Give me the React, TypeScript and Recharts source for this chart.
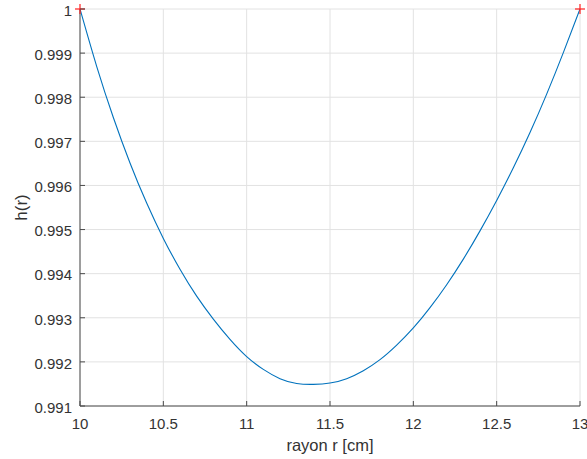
import { CartesianGrid, ComposedChart, Line, Scatter, XAxis, YAxis } from 'recharts'

const radii = [
  10, 10.1, 10.2, 10.3, 10.4, 10.5, 10.6, 10.7, 10.8, 10.9, 11, 11.1, 11.2, 11.3, 11.4, 11.5,
  11.6, 11.7, 11.8, 11.9, 12, 12.1, 12.2, 12.3, 12.4, 12.5, 12.6, 12.7, 12.8, 12.9, 13
]
const heights = [
  1.0, 0.9987, 0.99754, 0.99651, 0.9956, 0.9948, 0.9941, 0.99349, 0.99297, 0.99251,
  0.99212, 0.99183, 0.99162, 0.99151, 0.99149, 0.99152, 0.99162, 0.9918, 0.99205, 0.99238,
  0.99277, 0.99323, 0.99375, 0.99433, 0.99497, 0.99566, 0.9964, 0.9972, 0.99807, 0.99901, 1.0
]
const endRadii = [10, 13]
const endHeights = [1, 1]

const xTicks = [10, 10.5, 11, 11.5, 12, 12.5, 13]
const yTicks = [0.991, 0.992, 0.993, 0.994, 0.995, 0.996, 0.997, 0.998, 0.999, 1]

const curve = radii.map((r, i) => ({ r, h: heights[i] }))
const ends = endRadii.map((r, i) => ({ r, h: endHeights[i] }))

const AXIS = '#4a4a4a'
const TEXT = '#333333'
const FONT = '"Liberation Sans", Arial, sans-serif'
const TICK_LEN = 5
const X_MARGIN = 12
const Y_MARGIN = 8

function BottomTick({ x, y, payload }: any) {
  const axisY = y - X_MARGIN
  return (
    <g>
      <line x1={x} y1={axisY} x2={x} y2={axisY - TICK_LEN} stroke={AXIS} />
      <text x={x} y={y} dy="0.71em" textAnchor="middle" fill={TEXT} fontSize={15} fontFamily={FONT}>
        {String(payload.value)}
      </text>
    </g>
  )
}

function LeftTick({ x, y, payload }: any) {
  const axisX = x + Y_MARGIN
  return (
    <g>
      <line x1={axisX} y1={y} x2={axisX + TICK_LEN} y2={y} stroke={AXIS} />
      <text x={x} y={y + 1.5} dy="0.355em" textAnchor="end" fill={TEXT} fontSize={15} fontFamily={FONT}>
        {String(payload.value)}
      </text>
    </g>
  )
}

function TopTick({ x, y }: any) {
  return <line x1={x} y1={y} x2={x} y2={y + TICK_LEN} stroke={AXIS} />
}

function RightTick({ x, y }: any) {
  return <line x1={x} y1={y} x2={x - TICK_LEN} y2={y} stroke={AXIS} />
}

function PlusMarker({ cx, cy }: any) {
  return (
    <g stroke="#ff2020" strokeWidth={1.2}>
      <line x1={cx - 5} y1={cy} x2={cx + 5} y2={cy} />
      <line x1={cx} y1={cy - 5} x2={cx} y2={cy + 5} />
    </g>
  )
}

export default function App() {
  return (
    <div style={{ position: 'absolute', left: 0, top: 0, background: '#fff' }}>
      <ComposedChart
        width={587}
        height={459}
        data={curve}
        margin={{ top: 9, right: 7, bottom: 0, left: 0 }}
      >
        <CartesianGrid stroke="#e2e2e2" />
        <XAxis
          dataKey="r"
          type="number"
          domain={[10, 13]}
          ticks={xTicks}
          interval={0}
          height={53}
          tickLine={false}
          tickSize={0}
          tickMargin={X_MARGIN}
          tick={<BottomTick />}
          axisLine={{ stroke: AXIS }}
          label={{
            value: 'rayon r [cm]',
            position: 'insideBottom',
            offset: 8,
            fill: TEXT,
            fontSize: 16.5,
            fontFamily: FONT
          }}
        />
        <XAxis
          xAxisId="top"
          dataKey="r"
          type="number"
          orientation="top"
          domain={[10, 13]}
          ticks={xTicks}
          interval={0}
          height={0}
          tickLine={false}
          tickSize={0}
          tickMargin={0}
          tick={<TopTick />}
          axisLine={{ stroke: AXIS }}
        />
        <YAxis
          type="number"
          domain={[0.991, 1]}
          ticks={yTicks}
          interval={0}
          width={80}
          tickLine={false}
          tickSize={0}
          tickMargin={Y_MARGIN}
          tick={<LeftTick />}
          axisLine={{ stroke: AXIS }}
          label={{
            value: 'h(r)',
            angle: -90,
            position: 'center',
            dx: -19,
            fill: TEXT,
            fontSize: 17,
            fontFamily: FONT
          }}
        />
        <YAxis
          yAxisId="right"
          type="number"
          orientation="right"
          domain={[0.991, 1]}
          ticks={yTicks}
          interval={0}
          width={0}
          tickLine={false}
          tickSize={0}
          tickMargin={0}
          tick={<RightTick />}
          axisLine={{ stroke: AXIS }}
        />
        <Line
          dataKey="h"
          type="natural"
          stroke="#0072bd"
          strokeWidth={1.1}
          dot={false}
          isAnimationActive={false}
        />
        <Scatter data={ends} dataKey="h" shape={<PlusMarker />} isAnimationActive={false} />
      </ComposedChart>
    </div>
  )
}
